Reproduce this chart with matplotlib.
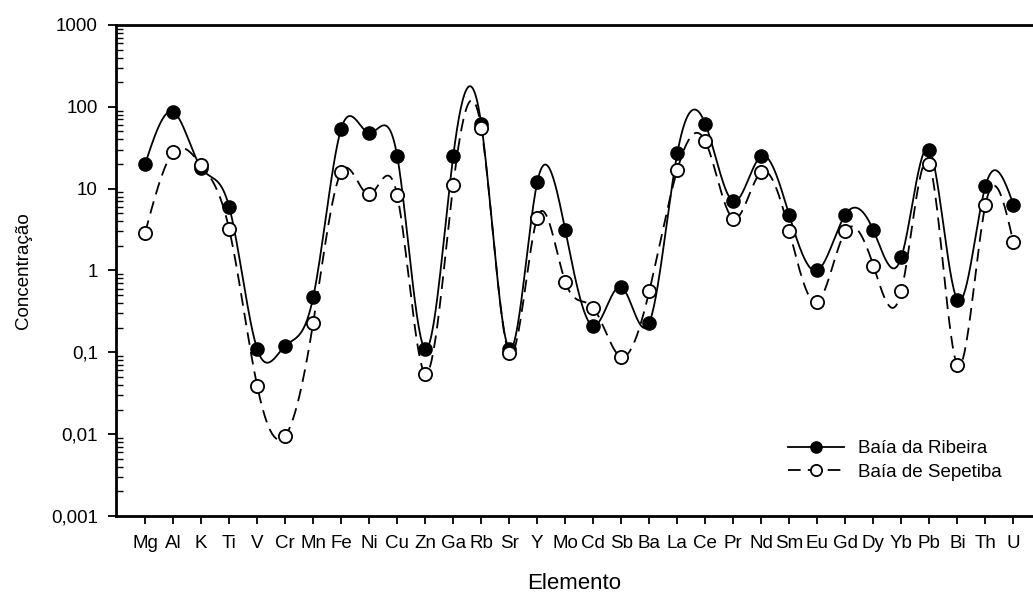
import numpy as np
import matplotlib
matplotlib.use("Agg")
import matplotlib.pyplot as plt
from matplotlib.ticker import LogLocator, FixedLocator, NullFormatter

plt.rcParams["font.family"] = ["Liberation Sans", "DejaVu Sans"]

elementos = ["Mg", "Al", "K", "Ti", "V", "Cr", "Mn", "Fe", "Ni", "Cu", "Zn",
             "Ga", "Rb", "Sr", "Y", "Mo", "Cd", "Sb", "Ba", "La", "Ce", "Pr",
             "Nd", "Sm", "Eu", "Gd", "Dy", "Yb", "Pb", "Bi", "Th", "U"]

ribeira = [20, 87, 18, 6.0, 0.11, 0.12, 0.47, 54, 48, 25, 0.11,
           25, 62, 0.11, 12, 3.1, 0.21, 0.63, 0.23, 27, 62, 7.0,
           25, 4.7, 1.0, 4.8, 3.1, 1.45, 30, 0.44, 10.7, 6.4]

sepetiba = [2.9, 28, 19.5, 3.2, 0.039, 0.0095, 0.23, 16, 8.5, 8.3, 0.055,
            11, 55, 0.098, 4.4, 0.73, 0.35, 0.088, 0.56, 17, 38, 4.3,
            16, 3.0, 0.41, 3.0, 1.15, 0.56, 20, 0.07, 6.3, 2.2]

ytick_vals = [0.001, 0.01, 0.1, 1, 10, 100, 1000]
ytick_txt = ["0,001", "0,01", "0,1", "1", "10", "100", "1000"]


def spline_natural(x, y, n=30):
    # spline cubico natural, feito a mao
    x = np.asarray(x, float)
    y = np.asarray(y, float)
    m = len(x)
    h = np.diff(x)
    A = np.zeros((m, m))
    b = np.zeros(m)
    A[0, 0] = 1
    A[-1, -1] = 1
    for i in range(1, m - 1):
        A[i, i - 1] = h[i - 1]
        A[i, i] = 2 * (h[i - 1] + h[i])
        A[i, i + 1] = h[i]
        b[i] = 3 * ((y[i + 1] - y[i]) / h[i] - (y[i] - y[i - 1]) / h[i - 1])
    c = np.linalg.solve(A, b)
    xs = []
    ys = []
    for i in range(m - 1):
        t = np.linspace(0, h[i], n, endpoint=False)
        bb = (y[i + 1] - y[i]) / h[i] - h[i] * (2 * c[i] + c[i + 1]) / 3
        d = (c[i + 1] - c[i]) / (3 * h[i])
        xs.append(x[i] + t)
        ys.append(y[i] + bb * t + c[i] * t ** 2 + d * t ** 3)
    xs.append([x[-1]])
    ys.append([y[-1]])
    return np.concatenate(xs), np.concatenate(ys)


fig = plt.figure(figsize=(10.33, 5.95), dpi=100)
ax = fig.add_axes([0.1123, 0.1328, 0.8877, 0.8252])

x = np.arange(len(elementos))

xr, yr = spline_natural(x, np.log10(ribeira))
xs, ys = spline_natural(x, np.log10(sepetiba))

ax.plot(xr, 10 ** yr, color="black", lw=1.3)
ax.plot(xs, 10 ** ys, color="black", lw=1.3, dashes=(7, 4))

ax.plot(x, ribeira, "o", color="black", ms=9.5, mfc="black", mec="black")
ax.plot(x, sepetiba, "o", color="black", ms=9.5, mfc="white", mec="black", mew=1.3)

ax.set_yscale("log")
ax.set_ylim(0.001, 1000)
ax.set_xlim(-1.04, 31.7)

ax.yaxis.set_major_locator(FixedLocator(ytick_vals))
ax.set_yticklabels(ytick_txt)
ax.yaxis.set_minor_locator(LogLocator(base=10, subs=np.arange(2, 10)))
ax.yaxis.set_minor_formatter(NullFormatter())

ax.set_xticks(x)
ax.set_xticklabels(elementos)

ax.tick_params(axis="both", which="major", direction="out", length=6, width=1.3,
               labelsize=13.5, colors="black")
ax.tick_params(axis="y", which="minor", direction="in", length=5, width=1.0)
ax.tick_params(axis="y", which="major", pad=7)
ax.tick_params(axis="x", which="major", pad=7.5)

for lado in ["left", "top", "bottom"]:
    ax.spines[lado].set_linewidth(2)
ax.spines["right"].set_visible(False)

ax.set_xlabel("Elemento", fontsize=16, labelpad=15)
ax.set_ylabel("Concentração", fontsize=13.5, labelpad=14)

h1, = ax.plot([], [], "-o", color="black", lw=1.3, ms=9.5, mfc="black")
h2, = ax.plot([], [], "o", color="black", lw=1.3, ms=9.5, mfc="white",
              mew=1.3, ls=(0, (7, 4)))
ax.legend([h1, h2], ["Baía da Ribeira", "Baía de Sepetiba"], loc="upper left",
          bbox_to_anchor=(788 / 1033, 1 - 440 / 595), bbox_transform=fig.transFigure,
          frameon=False, fontsize=13.5, borderpad=0, borderaxespad=0,
          handlelength=3.0, handletextpad=0.75, labelspacing=0.36,
          markerscale=0.85)

fig.savefig("out.png", dpi=100)
